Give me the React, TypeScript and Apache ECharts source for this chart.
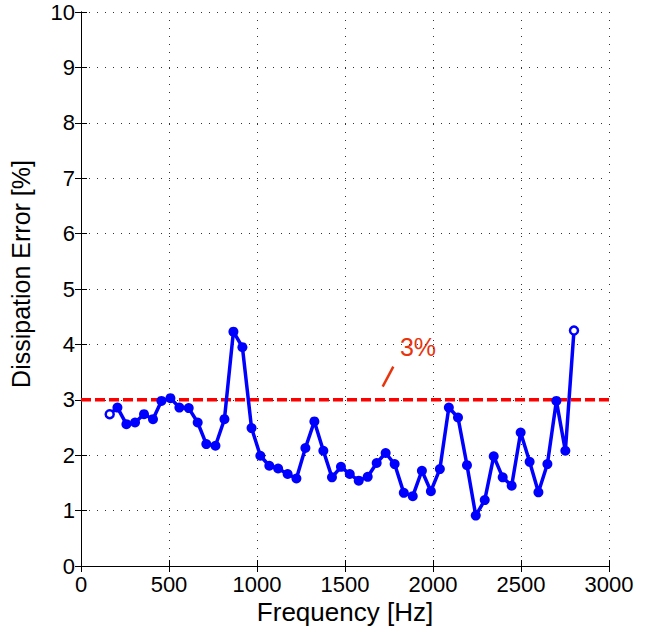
import React, { useEffect, useRef } from "react";
import * as echarts from "echarts";

const frequencies = [163, 207, 258, 307, 358, 409, 457, 508, 559, 612, 663, 712, 764, 815, 866, 917, 969, 1019, 1070, 1120, 1174, 1224, 1275, 1326, 1377, 1426, 1477, 1527, 1578, 1629, 1680, 1731, 1782, 1834, 1885, 1937, 1988, 2039, 2090, 2142, 2193, 2243, 2294, 2345, 2396, 2447, 2498, 2549, 2599, 2650, 2701, 2752, 2801];
const errors = [2.74, 2.86, 2.56, 2.59, 2.74, 2.65, 2.98, 3.03, 2.86, 2.85, 2.59, 2.2, 2.17, 2.65, 4.23, 3.95, 2.49, 1.99, 1.81, 1.76, 1.66, 1.58, 2.13, 2.61, 2.08, 1.6, 1.79, 1.66, 1.54, 1.61, 1.86, 2.04, 1.84, 1.32, 1.26, 1.72, 1.35, 1.75, 2.86, 2.68, 1.82, 0.91, 1.19, 1.98, 1.6, 1.45, 2.41, 1.88, 1.33, 1.84, 2.98, 2.08, 4.25];
const thresholdLine = [[0, 3], [3000, 3]];
const thresholdLabel = "3%";
const xTitle = "Frequency [Hz]";
const yTitle = "Dissipation Error [%]";

const FONT = "'Liberation Sans', Arial, Helvetica, sans-serif";

export default function App() {
  const ref = useRef<HTMLDivElement>(null);
  useEffect(() => {
    document.body.style.margin = "0";
    const chart = echarts.init(ref.current!, null, { renderer: "svg" });
    const last = frequencies.length - 1;
    const data = frequencies.map((f, i) => {
      const hollow = i === 0 || i === last;
      return hollow
        ? {
            value: [f, errors[i]],
            symbolSize: 8,
            itemStyle: { color: "#ffffff", borderColor: "#0000ff", borderWidth: 2.5 },
          }
        : { value: [f, errors[i]] };
    });
    const axisCommon = {
      axisLine: { show: true, lineStyle: { color: "#000", width: 1 } },
      axisTick: { show: true, inside: true, length: 6, lineStyle: { color: "#000" } },
    };
    const plain = (v: number) => String(v);
    chart.setOption({
      animation: false,
      backgroundColor: "#ffffff",
      grid: { left: 81, right: 51, top: 12, bottom: 66 },
      xAxis: [
        {
          type: "value",
          min: 0,
          max: 3000,
          interval: 500,
          ...axisCommon,
          axisLabel: { fontSize: 22, color: "#000", fontFamily: FONT, margin: 7, formatter: plain },
          splitLine: { show: true, lineStyle: { type: [1, 7], color: "#333", width: 1 } },
        },
        {
          type: "value",
          position: "top",
          min: 0,
          max: 3000,
          interval: 500,
          ...axisCommon,
          axisLabel: { show: false },
          splitLine: { show: false },
        },
      ],
      yAxis: [
        {
          type: "value",
          min: 0,
          max: 10,
          interval: 1,
          ...axisCommon,
          axisLabel: { fontSize: 22, color: "#000", fontFamily: FONT, margin: 6, formatter: plain },
          splitLine: { show: true, lineStyle: { type: [1, 7], color: "#333", width: 1 } },
        },
        {
          type: "value",
          position: "right",
          min: 0,
          max: 10,
          interval: 1,
          ...axisCommon,
          axisLabel: { show: false },
          splitLine: { show: false },
        },
      ],
      series: [
        {
          type: "line",
          data: thresholdLine,
          symbol: "none",
          lineStyle: { color: "#ff0000", width: 3.5, type: [10, 4] },
          silent: true,
          z: 2,
        },
        {
          type: "line",
          data,
          symbol: "circle",
          symbolSize: 10,
          itemStyle: { color: "#0000ff" },
          lineStyle: { color: "#0000ff", width: 3.5 },
          z: 3,
        },
      ],
      graphic: [
        {
          type: "text",
          x: 345,
          y: 612,
          style: { text: xTitle, fontSize: 26, fontFamily: FONT, fill: "#000", align: "center", verticalAlign: "middle" },
        },
        {
          type: "text",
          x: 21,
          y: 274,
          rotation: Math.PI / 2,
          style: { text: yTitle, fontSize: 25, fontFamily: FONT, fill: "#000", align: "center", verticalAlign: "middle" },
        },
        {
          type: "text",
          x: 418,
          y: 347,
          style: { text: thresholdLabel, fontSize: 25, fontFamily: FONT, fill: "#e8340c", align: "center", verticalAlign: "middle" },
        },
        {
          type: "line",
          shape: { x1: 382.7, y1: 386.7, x2: 393.3, y2: 366.7 },
          style: { stroke: "#e8340c", lineWidth: 2.5 },
        },
      ],
    });
    return () => chart.dispose();
  }, []);
  return <div ref={ref} style={{ width: 660, height: 632 }} />;
}
